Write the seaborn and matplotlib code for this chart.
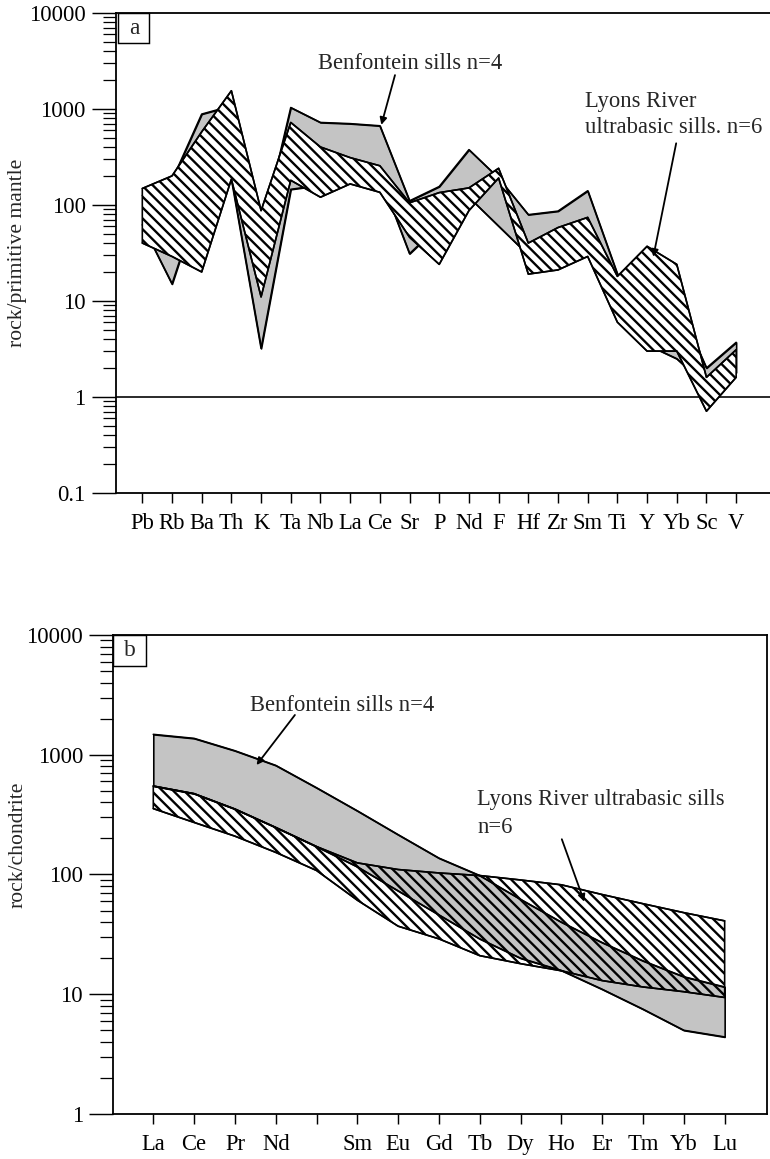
import numpy as np
import matplotlib
matplotlib.use("Agg")
import matplotlib.pyplot as plt
import seaborn as sns
from matplotlib.ticker import FixedLocator, LogLocator, NullFormatter
from matplotlib.patches import Rectangle

# ---------------- data: panel a (rock / primitive mantle) ----------------
spider_elements = ["Pb", "Rb", "Ba", "Th", "K", "Ta", "Nb", "La", "Ce", "Sr", "P",
                   "Nd", "F", "Hf", "Zr", "Sm", "Ti", "Y", "Yb", "Sc", "V"]
lyons_hi_a = [148, 200, 575, 1540, 87, 720, 400, 310, 255, 105, 134,
              150, 240, 40, 58, 74, 18, 37, 24, 1.6, 3.1]
lyons_lo_a = [40, 29, 20, 185, 11, 180, 120, 165, 135, 46, 24,
              87, 190, 19, 21, 29, 6.0, 3.0, 3.0, 0.71, 1.6]
benf_hi_a = [125, 180, 880, 1070, 50, 1030, 720, 700, 665, 110, 155,
             375, 190, 79, 86, 140, 19, 14, 10, 2.0, 3.7]
benf_lo_a = [62, 15, 130, 185, 3.2, 145, 160, 190, 200, 31, 61,
             120, 60, 30, 35, 45, 8, 3.5, 2.5, 1.3, 1.8]

# ---------------- data: panel b (rock / chondrite) ----------------
ree_elements = ["La", "Ce", "Pr", "Nd", "", "Sm", "Eu", "Gd", "Tb", "Dy",
                "Ho", "Er", "Tm", "Yb", "Lu"]
lyons_hi_b = [548, 473, 352, 247, 171, 125, 110, 103, 98, 90, 82, 68, 57, 48, 41]
lyons_lo_b = [355, 272, 209, 153, 108, 61, 37, 29, 21, 18, 15.7, 13, 11.5, 10.5, 9.4]
benf_hi_b = [1480, 1370, 1080, 815, 530, 340, 215, 137, 98, 62, 40, 27, 19, 14, 11.5]
benf_lo_b = [548, 473, 352, 247, 171, 116, 73, 46, 29, 20, 15.8, 11, 7.5, 5.0, 4.4]

ytick_a = [0.1, 1, 10, 100, 1000, 10000]
ytick_a_labels = ["0.1", "1", "10", "100", "1000", "10000"]
ytick_b = [1, 10, 100, 1000, 10000]
ytick_b_labels = ["1", "10", "100", "1000", "10000"]

# ---------------- style ----------------
DPI = 130
sns.set_theme(style="ticks", rc={"axes.edgecolor": "black", "xtick.color": "black",
                                 "ytick.color": "black", "axes.linewidth": 1.0})
plt.rcParams["font.family"] = ["Liberation Serif", "DejaVu Serif"]
plt.rcParams["hatch.linewidth"] = 1.3
plt.rcParams["hatch.color"] = "black"

GREY = "#c4c4c4"
LW = 0.9
HATCH = "\\" * 4

fig = plt.figure(figsize=(770 / DPI, 1159 / DPI), dpi=DPI)
ax_a = fig.add_axes([0.15065, 0.57463, 0.84935, 0.41441])
ax_b = fig.add_axes([0.14714, 0.03883, 0.84857, 0.41329])


def draw_envelopes(ax, x, b_lo, b_hi, l_lo, l_hi, lyons_face):
    ax.fill_between(x, b_lo, b_hi, facecolor=GREY, edgecolor="black",
                    linewidth=LW, zorder=2)
    for arr in (b_lo, b_hi):
        sns.lineplot(x=x, y=arr, ax=ax, color="black", linewidth=LW,
                     zorder=2.1, legend=False)
    ax.fill_between(x, l_lo, l_hi, facecolor=lyons_face, edgecolor="black",
                    hatch=HATCH, linewidth=LW, zorder=3)
    for arr in (l_lo, l_hi):
        sns.lineplot(x=x, y=arr, ax=ax, color="black", linewidth=LW,
                     zorder=3.1, legend=False)


def style_axis(ax, yt, ytl, ylim, xlim, xlabels):
    ax.set_yscale("log")
    ax.set_ylim(*ylim)
    ax.set_xlim(*xlim)
    ax.yaxis.set_major_locator(FixedLocator(yt))
    ax.set_yticklabels(ytl)
    ax.yaxis.set_minor_locator(LogLocator(base=10, subs=np.arange(2, 10)))
    ax.yaxis.set_minor_formatter(NullFormatter())
    ax.set_xticks(range(len(xlabels)))
    ax.set_xticklabels(xlabels)
    ax.tick_params(axis="y", which="major", direction="out", length=13.3,
                   width=0.8, pad=3.5, labelsize=12.5)
    ax.tick_params(axis="y", which="minor", direction="out", length=7.0, width=0.7)
    ax.tick_params(axis="x", which="major", direction="out", length=5.5,
                   width=0.8, pad=5.5, labelsize=12.5)
    ax.set_xlabel("")
    ax.set_ylabel("")
    ax.grid(False)


# ---------------- panel a ----------------
xa = np.arange(len(spider_elements))
draw_envelopes(ax_a, xa, benf_lo_a, benf_hi_a, lyons_lo_a, lyons_hi_a, "white")
ax_a.axhline(1, color="black", linewidth=LW, zorder=1.5)
style_axis(ax_a, ytick_a, ytick_a_labels, (0.1, 10000), (-0.886, 21.14), spider_elements)
ax_a.spines["right"].set_visible(False)

ax_a.text(5.91, 2590, "Benfontein sills n=4", ha="left", va="baseline", fontsize=12.5)
ax_a.annotate("", xy=(8.05, 680), xytext=(8.51, 2240),
              arrowprops=dict(arrowstyle="-|>", color="black", lw=1.0,
                              mutation_scale=8, shrinkA=0, shrinkB=0))
ax_a.text(14.91, 1040, "Lyons River", ha="left", va="baseline", fontsize=12.5)
ax_a.text(14.91, 557, "ultrabasic sills. n=6", ha="left", va="baseline", fontsize=12.5)
ax_a.annotate("", xy=(17.21, 28.8), xytext=(17.98, 437),
              arrowprops=dict(arrowstyle="-|>", color="black", lw=1.0,
                              mutation_scale=8, shrinkA=0, shrinkB=0))
ax_a.add_patch(Rectangle((0.003, 0.936), 0.048, 0.063, transform=ax_a.transAxes,
                         facecolor="white", edgecolor="black", linewidth=0.8,
                         zorder=5, clip_on=False))
ax_a.text(0.0275, 0.967, "a", transform=ax_a.transAxes, ha="center", va="center",
          fontsize=13, zorder=6)

# ---------------- panel b ----------------
xb = np.arange(len(ree_elements))
draw_envelopes(ax_b, xb, benf_lo_b, benf_hi_b, lyons_lo_b, lyons_hi_b, "none")
style_axis(ax_b, ytick_b, ytick_b_labels, (1, 10000), (-0.98, 15.03), ree_elements)

ax_b.text(2.37, 2333, "Benfontein sills n=4", ha="left", va="baseline", fontsize=12.5)
ax_b.annotate("", xy=(2.53, 821), xytext=(3.47, 2148),
              arrowprops=dict(arrowstyle="-|>", color="black", lw=1.0,
                              mutation_scale=8, shrinkA=0, shrinkB=0))
ax_b.text(7.94, 381, "Lyons River ultrabasic sills", ha="left", va="baseline", fontsize=12.5)
ax_b.text(7.94, 221, "n=6", ha="left", va="baseline", fontsize=12.5)
ax_b.annotate("", xy=(10.56, 59.3), xytext=(10.01, 197),
              arrowprops=dict(arrowstyle="-|>", color="black", lw=1.0,
                              mutation_scale=8, shrinkA=0, shrinkB=0))
ax_b.add_patch(Rectangle((0.0, 0.935), 0.05, 0.065, transform=ax_b.transAxes,
                         facecolor="white", edgecolor="black", linewidth=0.8,
                         zorder=5, clip_on=False))
ax_b.text(0.0248, 0.9676, "b", transform=ax_b.transAxes, ha="center", va="center",
          fontsize=13, zorder=6)

# ---------------- axis titles ----------------
fig.text(18 / 770, 1 - 253 / 1159, "rock/primitive mantle", rotation=90,
         ha="center", va="center", fontsize=12)
fig.text(18 / 770, 1 - 845 / 1159, "rock/chondrite", rotation=90,
         ha="center", va="center", fontsize=12)

fig.savefig("out.png", dpi=DPI)
